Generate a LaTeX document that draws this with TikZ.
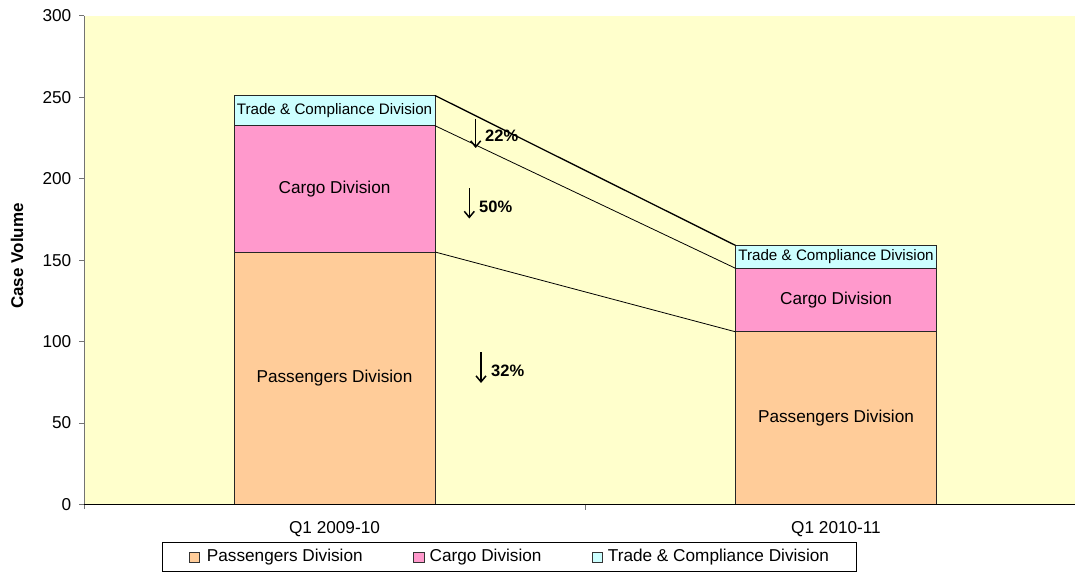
\documentclass[tikz,border=0pt]{standalone}
\usepackage{fontspec}
\setmainfont{Liberation Sans}
\usetikzlibrary{arrows.meta}
\definecolor{plotbg}{HTML}{FFFFCC}
\definecolor{passc}{HTML}{FFCC99}
\definecolor{cargoc}{HTML}{FF99CC}
\definecolor{tradec}{HTML}{CCFFFF}
\begin{document}
\begin{tikzpicture}[x=1pt,y=-1pt,
  seg/.style={draw=black!85, line width=0.9pt, inner sep=0pt, outer sep=0pt,
    anchor=south west, minimum width=201pt, font=\fontsize{17.2}{20}\selectfont},
  tradelab/.style={font=\fontsize{15.2}{17}\selectfont},
  conn/.style={draw=black, line width=0.8pt},
  lab/.style={inner sep=0pt, font=\fontsize{17.2}{20}\selectfont},
  pct/.style={inner sep=0pt, anchor=west, font=\fontsize{16.5}{18}\selectfont\bfseries},
  pctarrow/.style={draw=black, line width=1.5pt, -{Straight Barb[length=6pt,width=10pt,line width=1.5pt]}},
  legsq/.style={draw=black!80, line width=0.8pt, minimum size=10.5pt, inner sep=0pt},
  legtxt/.style={anchor=west, inner sep=0pt, font=\fontsize{17.2}{20}\selectfont}
]
\useasboundingbox (0,0) rectangle (1075,572);
% plot area
\fill[plotbg] (84,15.7) rectangle (1075,504.5);
% y axis
\draw[black!55, line width=1pt] (84,15.7) -- (84,509);
\foreach \v in {0,50,...,300} {
  \pgfmathsetmacro{\yy}{504.5-1.6293*\v}
  \draw[black!55, line width=1pt] (79,\yy) -- (84,\yy);
  \node[lab, anchor=east] (ytick\v) at (71.5,\yy) {\v};
}
\node[rotate=90, inner sep=0pt, font=\fontsize{17}{20}\selectfont\bfseries] (ylab) at (17,256) {Case Volume};
% bars
\node[seg, fill=passc, minimum height=252.5pt] (p1) at (234,504.5) {Passengers Division};
\node[seg, fill=cargoc, minimum height=126.3pt] (c1) at (p1.north west) {Cargo Division};
\node[seg, fill=tradec, minimum height=30.2pt, tradelab] (t1) at (c1.north west) {Trade \& Compliance Division};
\node[seg, fill=passc, minimum height=172.7pt] (p2) at (735.5,504.5) {Passengers Division};
\node[seg, fill=cargoc, minimum height=63.5pt] (c2) at (p2.north west) {Cargo Division};
\node[seg, fill=tradec, minimum height=22.9pt, tradelab] (t2) at (c2.north west) {Trade \& Compliance Division};
% connectors
\draw[conn, line width=1.3pt] (t1.north east) -- (t2.north west);
\draw[conn] (c1.north east) -- (c2.north west);
\draw[conn] (p1.north east) -- (p2.north west);
% x axis
\draw[black, line width=1pt] (84,504.5) -- (1075,504.5);
\draw[black!55, line width=1pt] (585.5,504.5) -- (585.5,510);
\node[lab] (xl1) at (334.5,529) {Q1 2009-10};
\node[lab] (xl2) at (836,529) {Q1 2010-11};
% percentage arrows
\coordinate (a1s) at (475.7,119);
\coordinate (a1e) at (475.7,148);
\draw[pctarrow] (a1s) -- (a1e);
\node[pct] (n22) at (485,136) {22\%};
\coordinate (a2s) at (469.3,188);
\coordinate (a2e) at (469.3,218.5);
\draw[pctarrow] (a2s) -- (a2e);
\node[pct] (n50) at (479,206.7) {50\%};
\coordinate (a3s) at (481,352);
\coordinate (a3e) at (481,383);
\draw[pctarrow] (a3s) -- (a3e);
\node[pct] (n32) at (491,371) {32\%};
% legend
\node[draw=black, line width=0.9pt, minimum width=694pt, minimum height=28.7pt, anchor=north west, inner sep=0pt, outer sep=0pt] (leg) at (162,542.3) {};
\node[legsq, fill=passc] (lsq1) at (194.6,557.3) {};
\node[legtxt] (lt1) at (206.7,557.3) {Passengers Division};
\node[legsq, fill=cargoc] (lsq2) at (418.8,557.3) {};
\node[legtxt] (lt2) at (429.5,557.3) {Cargo Division};
\node[legsq, fill=tradec] (lsq3) at (597.5,557.3) {};
\node[legtxt] (lt3) at (607.7,557.3) {Trade \& Compliance Division};
\end{tikzpicture}
\end{document}
